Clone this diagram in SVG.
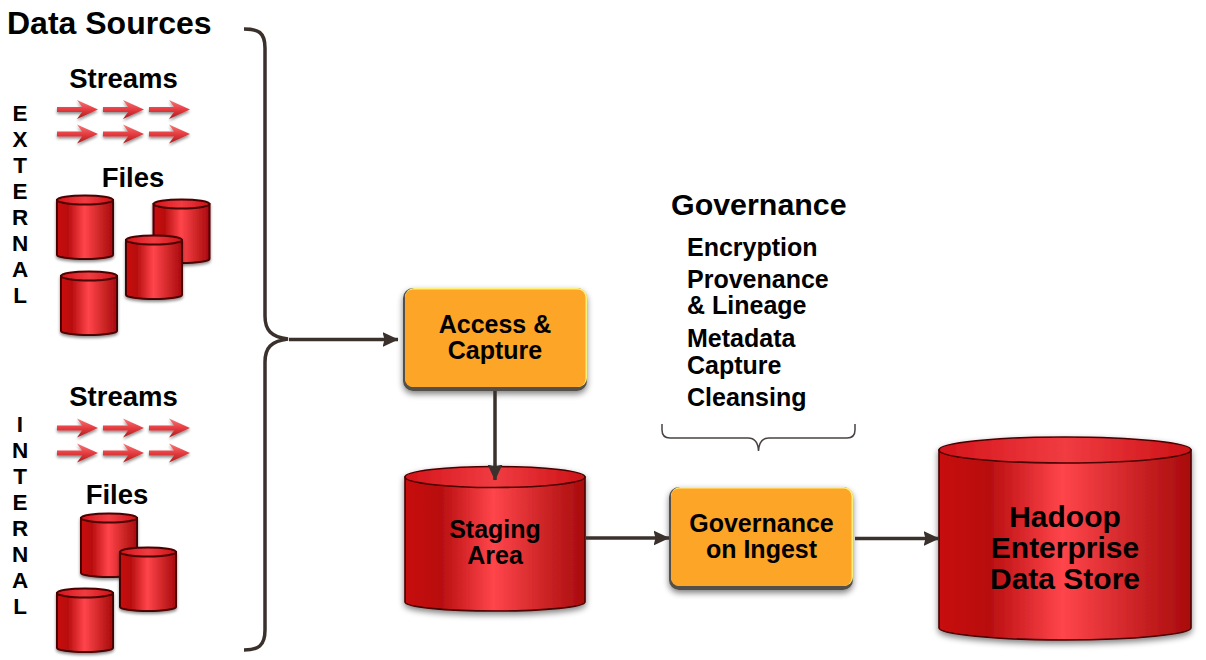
<svg xmlns="http://www.w3.org/2000/svg" width="1206" height="660" viewBox="0 0 1206 660">
<style>
text{font-family:"Liberation Sans",Arial,sans-serif;font-weight:bold;fill:#000}
.t{font-size:25px;text-anchor:middle}
.s{font-size:27.5px;text-anchor:middle}
.v{font-size:22.5px;text-anchor:middle}
.m{text-anchor:middle;font-size:30px}
.g{font-size:25px}
.side{fill:url(#cyl);stroke:#4a0000;stroke-width:1.6}
.top{fill:url(#cyltop);stroke:#4a0000;stroke-width:1.6}
#can .side,#can .top{stroke-width:2}
.c{fill:none;stroke:#3a302c;stroke-width:3.5}
.k{fill:none;stroke:#3a302c;stroke-width:3.5}
.edge{fill:#55504a}
.lite{fill:#fff07a}
.box{fill:#fca528}
</style>
<defs>
<linearGradient id="cyl"><stop offset="0" stop-color="#c80a0e"/><stop offset=".2" stop-color="#b80e10"/><stop offset=".49" stop-color="#ff454b"/><stop offset=".78" stop-color="#cc2426"/><stop offset="1" stop-color="#a80a0c"/></linearGradient>
<linearGradient id="cyltop"><stop offset="0" stop-color="#d4141a"/><stop offset=".5" stop-color="#f03c42"/><stop offset="1" stop-color="#cc1216"/></linearGradient>
<linearGradient id="ar" x1="0" y1="0" x2="0" y2="1"><stop offset="0" stop-color="#f47a7a"/><stop offset=".5" stop-color="#e63c40"/><stop offset="1" stop-color="#a81c1e"/></linearGradient>
<filter id="sh" x="-20%" y="-20%" width="140%" height="145%"><feGaussianBlur in="SourceAlpha" stdDeviation="3"/><feOffset dy="3"/><feComponentTransfer><feFuncA type="linear" slope=".5"/></feComponentTransfer><feMerge><feMergeNode/><feMergeNode in="SourceGraphic"/></feMerge></filter>
<filter id="s2" x="-25%" y="-40%" width="150%" height="190%"><feGaussianBlur in="SourceAlpha" stdDeviation="1.4"/><feOffset dy="2"/><feComponentTransfer><feFuncA type="linear" slope=".45"/></feComponentTransfer><feMerge><feMergeNode/><feMergeNode in="SourceGraphic"/></feMerge></filter>
<filter id="soft" x="-5%" y="-5%" width="110%" height="110%"><feGaussianBlur stdDeviation=".7"/></filter>
<g id="can" filter="url(#s2)"><path class="side" d="M0 5V60C0 62 12 64 28 64S56 62 56 60V5Z"/><ellipse class="top" cx="28" cy="5" rx="28" ry="4.500"/></g>
<g id="arr" filter="url(#s2)"><path fill="url(#ar)" d="M0 -2.500H25L20 -9.500L41 0L20 9.500L25 2.500H0Z"/></g>
<marker id="ah" markerWidth="16" markerHeight="16" refX="15.500" refY="8" orient="auto" markerUnits="userSpaceOnUse"><path fill="#3a302c" d="M0 0.500L16 8L0 15.500L2 8Z"/></marker>
</defs>

<text id="title" x="7" y="34" font-size="32">Data Sources</text>

<g id="external-label">
<text class="v" x="20" y="121">E</text><text class="v" x="20" y="147">X</text><text class="v" x="20" y="173">T</text><text class="v" x="20" y="199">E</text><text class="v" x="20" y="225">R</text><text class="v" x="20" y="251">N</text><text class="v" x="20" y="277">A</text><text class="v" x="20" y="303">L</text>
</g>
<g id="internal-label">
<text class="v" x="20" y="432">I</text><text class="v" x="20" y="458">N</text><text class="v" x="20" y="484">T</text><text class="v" x="20" y="510">E</text><text class="v" x="20" y="536">R</text><text class="v" x="20" y="562">N</text><text class="v" x="20" y="588">A</text><text class="v" x="20" y="614">L</text>
</g>

<g id="streams-external">
<text class="s" x="123.500" y="88">Streams</text>
<use href="#arr" x="57" y="109.500"/><use href="#arr" x="103" y="109.500"/><use href="#arr" x="149" y="109.500"/>
<use href="#arr" x="57" y="134"/><use href="#arr" x="103" y="134"/><use href="#arr" x="149" y="134"/>
</g>
<g id="files-external">
<text class="s" x="133" y="187">Files</text>
<use href="#can" x="153.500" y="199"/><use href="#can" x="57" y="195"/><use href="#can" x="126" y="235"/><use href="#can" x="61" y="271"/>
</g>
<g id="streams-internal">
<text class="s" x="123.500" y="406">Streams</text>
<use href="#arr" x="57" y="428"/><use href="#arr" x="103" y="428"/><use href="#arr" x="149" y="428"/>
<use href="#arr" x="57" y="453"/><use href="#arr" x="103" y="453"/><use href="#arr" x="149" y="453"/>
</g>
<g id="files-internal">
<text class="s" x="117" y="504">Files</text>
<use href="#can" x="81" y="513"/><use href="#can" x="120" y="547"/><use href="#can" x="57" y="588"/>
</g>

<g id="brace-sources"><path class="k" d="M244 29C258 29 265 32 265 48V316C265 330 271 337 288 339C271 341 265 348 265 362V630C265 646 258 650 244 650"/></g>

<g id="access-capture">
<g filter="url(#sh)"><rect class="edge" x="403" y="288" width="184" height="103" rx="10"/></g>
<g filter="url(#soft)"><rect class="lite" x="405" y="288" width="182" height="99" rx="9"/>
<rect class="box" x="405" y="289.500" width="180.500" height="97.500" rx="8"/></g>
<text class="t" x="495" y="333">Access &amp;</text><text class="t" x="495" y="358.500">Capture</text>
</g>

<g id="staging-area">
<g filter="url(#sh)"><path class="side" d="M405 477V602C405 607 445 611 495 611S585 607 585 602V477Z"/>
<ellipse class="top" cx="495" cy="477" rx="90" ry="10.500"/></g>
<text class="t" x="495" y="537.500">Staging</text><text class="t" x="495" y="563.500">Area</text>
</g>

<g id="governance-ingest">
<g filter="url(#sh)"><rect class="edge" x="669" y="487" width="184" height="103" rx="10"/></g>
<g filter="url(#soft)"><rect class="lite" x="671" y="487" width="182" height="99" rx="9"/>
<rect class="box" x="671" y="488.500" width="180.500" height="97.500" rx="8"/></g>
<text class="t" x="761.500" y="532">Governance</text><text class="t" x="761.500" y="558">on Ingest</text>
</g>

<g id="hadoop">
<g filter="url(#sh)"><path class="side" d="M939 450V628C939 634 995 640 1065 640S1191 634 1191 628V450Z"/>
<ellipse class="top" cx="1065" cy="450" rx="126" ry="13"/></g>
<text class="m" x="1065" y="527">Hadoop</text><text class="m" x="1065" y="558">Enterprise</text><text class="m" x="1065" y="589">Data Store</text>
</g>

<g id="connectors">
<path class="c" d="M289 339.500H398" marker-end="url(#ah)"/>
<path class="c" d="M495 391V480" marker-end="url(#ah)"/>
<path class="c" d="M586 538H669" marker-end="url(#ah)"/>
<path class="c" d="M855 538.500H939" marker-end="url(#ah)"/>
</g>

<g id="governance-list">
<text x="671" y="215" font-size="30.400">Governance</text>
<text class="g" x="687" y="256">Encryption</text>
<text class="g" x="687" y="288">Provenance</text><text class="g" x="687" y="314">&amp; Lineage</text>
<text class="g" x="687" y="347">Metadata</text><text class="g" x="687" y="373.500">Capture</text>
<text class="g" x="687" y="406">Cleansing</text>
</g>
<g id="brace-governance"><path d="M662 424V430C662 435 665 438 670 438H748C754 438 758 441 758.500 451C759 441 763 438 769 438H847C852 438 855 435 855 430V424" fill="none" stroke="#4a4240" stroke-width="1.500"/></g>
</svg>
